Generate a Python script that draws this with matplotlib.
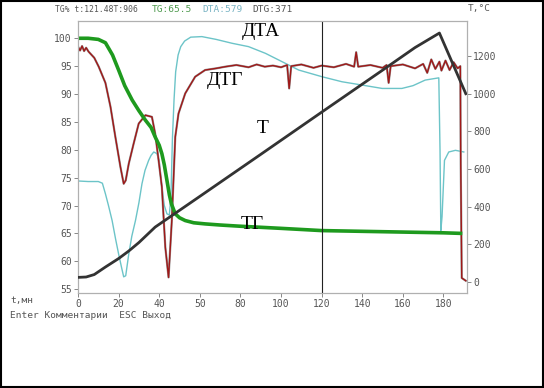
import matplotlib
matplotlib.use("Agg")
import matplotlib.pyplot as plt
from matplotlib.patches import Rectangle

# ---- data ----
tg_t = [0, 5, 10, 13.5, 17, 20, 23, 26.7, 30, 33.2, 36, 38, 40, 41.3, 42.5, 43.8, 45, 46,
        47.9, 50, 52.8, 57, 62.6, 70, 79, 100, 120, 150, 180, 188.4]
tg_v = [100, 100, 99.8, 99.2, 97, 94.3, 91.5, 88.9, 87, 85.3, 84, 82.3, 80.8, 79.3, 77.3,
        74.5, 71.9, 70.3, 68.5, 67.8, 67.3, 66.9, 66.7, 66.5, 66.3, 65.9, 65.5, 65.3, 65.1, 65.0]

dtg_t = [0, 1, 2, 3, 4, 5.2, 8, 10.2, 13.5, 16, 18.4, 20.9, 22.5, 23.5, 25, 27.4, 29.9,
         33.2, 36.4, 38, 39.7, 41.3, 43, 44.6, 46.2, 47.9, 49.5, 52.8, 57.7, 62.6, 68, 72.5,
         78, 84, 88, 92, 96, 100, 103, 104, 105, 110, 116, 120, 126, 132, 136, 137, 138,
         144, 150, 152, 153, 154, 160, 166, 170, 172, 174, 176, 178, 179, 181, 183, 185,
         187, 188.3, 188.5, 189, 191]
dtg_v = [98.5, 97.8, 98.6, 97.7, 98.3, 97.6, 96.5, 94.9, 92, 87.7, 82.3, 76.9, 73.9, 74.5,
         77.5, 81.1, 84.7, 86.2, 85.9, 82.9, 78.1, 73.3, 62.5, 57.1, 67.3, 82.3, 86.5, 90.1,
         93.1, 94.3, 94.6, 94.9, 95.2, 94.8, 95.3, 94.9, 95.1, 94.8, 95.2, 91.0, 95.0, 95.3,
         94.7, 95.1, 94.8, 95.4, 94.9, 97.5, 94.9, 95.2, 94.7, 95.2, 92.0, 95.0, 95.3, 94.6,
         95.4, 93.8, 96.2, 94.5, 95.8, 94.2, 96.0, 94.3, 95.7, 94.6, 95.0, 77.5, 57.0, 56.5]

dta_t = [0, 5, 10, 12, 13.5, 15, 16.8, 18.5, 20, 21.5, 22.5, 23.5, 25, 26.5, 28.3, 30,
         31.5, 33, 34.8, 36, 37.3, 38.9, 40, 41.3, 42.5, 43.8, 45, 45.8, 46.5, 47.3, 48.1,
         49.3, 50.6, 52.5, 55.5, 61, 68, 75.9, 84, 92.3, 100.5, 108.7, 120.2, 130, 140,
         149.8, 159.5, 165, 171, 176, 177.7, 178.3, 178.7, 179.3, 180.5, 182.6, 185.9, 190]
dta_v = [74.4, 74.3, 74.3, 74.0, 72.1, 70.0, 67.3, 64.0, 61.3, 58.8, 57.2, 57.4, 61.3,
         64.5, 67.3, 70.5, 73.9, 76.3, 78.1, 79.0, 79.6, 79.3, 78.0, 73.3, 70.0, 68.5, 68.3,
         72.0, 82.0, 89.0, 94.0, 97.0, 98.5, 99.5, 100.2, 100.3, 99.8, 99.1, 98.5, 97.3,
         95.8, 94.3, 93.1, 92.2, 91.6, 91.0, 91.0, 91.5, 92.5, 92.8, 92.9, 80.0, 65.5, 68.0,
         78.1, 79.6, 79.9, 79.6]

temp_t = [0, 4, 8, 13.5, 20, 25, 30, 38, 60, 90, 120, 150, 166, 178, 191]
temp_v = [25, 27, 40, 80, 125, 165, 210, 292, 455, 678, 902, 1125, 1245, 1322, 1000]

x_ticks = [0, 20, 40, 60, 80, 100, 120, 140, 160, 180]
x_labels = ["0", "20", "40", "50", "80", "100", "120", "140", "160", "180"]
left_ticks = [55, 60, 65, 70, 75, 80, 85, 90, 95, 100]
right_ticks = [0, 200, 400, 600, 800, 1000, 1200]
cursor_t = 120

MONO = "DejaVu Sans Mono"
GRAY = "#555555"

fig = plt.figure(figsize=(5.44, 3.88), dpi=100)
ax = fig.add_axes([0.1434, 0.2448, 0.7151, 0.7011])
ax2 = ax.twinx()

ax.plot(dta_t, dta_v, color="#6cc4c8", lw=1.0, zorder=2)
ax.plot(dtg_t, dtg_v, color="#999999", lw=1.6, zorder=3)
ax.plot(dtg_t, dtg_v, color="#a01818", lw=1.0, zorder=4)
ax.plot(tg_t, tg_v, color="#1e9a1e", lw=2.6, zorder=5)
ax.axvline(cursor_t, color="#222222", lw=0.8, zorder=6)
ax2.plot(temp_t, temp_v, color="#333333", lw=2.0, zorder=7)

ax.set_xlim(0, 191.6)
ax.set_ylim(54.3, 103.1)
ax2.set_ylim(-58, 1386)

ax.set_xticks(x_ticks)
ax.set_xticklabels(x_labels)
ax.set_yticks(left_ticks)
ax2.set_yticks(right_ticks)

for a in (ax, ax2):
    for s in a.spines.values():
        s.set_color("#b0b0b0")
        s.set_linewidth(0.8)
    a.tick_params(colors="#888888", labelcolor=GRAY, length=3, width=0.7, labelsize=7,
                  pad=1.5)
    for lab in a.get_xticklabels() + a.get_yticklabels():
        lab.set_fontfamily(MONO)

# annotations inside the plot
serif = "Liberation Serif"
ax.text(80.5, 101.2, "ДТА", family=serif, fontsize=14, ha="left", va="center", zorder=8)
ax.text(63.5, 92.4, "ДТГ", family=serif, fontsize=14, ha="left", va="center", zorder=8)
ax.text(88, 83.8, "Т", family=serif, fontsize=14, ha="left", va="center", zorder=8)
ax.text(80, 66.6, "ТГ", family=serif, fontsize=14, ha="left", va="center", zorder=8)

# header and footer texts
def ftext(x, y, s, color=GRAY, size=6.8):
    fig.text(x / 544, 1 - y / 388, s, family=MONO, fontsize=size, color=color,
             ha="left", va="center")

ftext(55, 9, "TG% t:121.48T:906", size=5.8)
ftext(152, 9, "TG:65.5", color="#4f9a4f")
ftext(202, 9, "DTA:579", color="#7ab4c4")
ftext(252, 9, "DTG:371")
ftext(468, 9, "T,°C")
ftext(10, 301, "t,мн")
ftext(10, 316, "Enter Комментарии  ESC Выход")

fig.patches.append(Rectangle((0.002, 0.003), 0.996, 0.994, transform=fig.transFigure,
                             fill=False, edgecolor="black", lw=1.5))

fig.savefig("out.png", dpi=100)
